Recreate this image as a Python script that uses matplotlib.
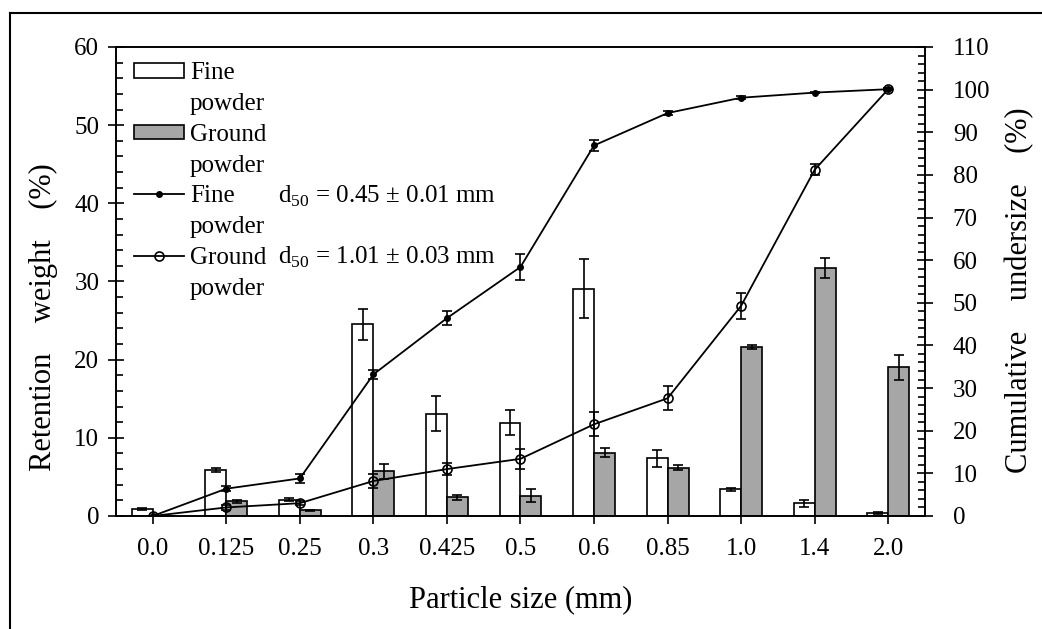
import numpy as np
import matplotlib
matplotlib.use("Agg")
from matplotlib import pyplot as plt
from matplotlib.lines import Line2D
from matplotlib.patches import Rectangle
from matplotlib.ticker import MultipleLocator

plt.rcParams['font.family'] = ['Liberation Serif', 'DejaVu Serif']
plt.rcParams['mathtext.fontset'] = 'custom'
plt.rcParams['mathtext.rm'] = 'Liberation Serif'

# Data
sizes = ['0.0', '0.125', '0.25', '0.3', '0.425', '0.5', '0.6', '0.85', '1.0', '1.4', '2.0']
fine_ret = [0.9, 5.9, 2.1, 24.5, 13.1, 11.9, 29.1, 7.4, 3.4, 1.6, 0.4]
fine_ret_err = [0.1, 0.3, 0.2, 2.0, 2.2, 1.6, 3.8, 1.1, 0.2, 0.4, 0.1]
ground_ret = [0.0, 1.9, 0.7, 5.7, 2.4, 2.6, 8.1, 6.2, 21.6, 31.7, 19.0]
ground_ret_err = [0.0, 0.2, 0.1, 1.0, 0.3, 0.8, 0.6, 0.3, 0.3, 1.3, 1.6]
fine_cum = [0, 6.4, 8.8, 33.2, 46.4, 58.4, 86.9, 94.5, 98.1, 99.3, 100.1]
fine_cum_err = [0, 0.6, 1.0, 1.0, 1.6, 3.0, 1.3, 0.4, 0.3, 0.2, 0.2]
ground_cum = [0, 2.0, 3.0, 8.2, 11.0, 13.4, 21.5, 27.6, 49.3, 81.2, 100.1]
ground_cum_err = [0, 0.5, 0.4, 1.6, 1.5, 2.4, 2.8, 2.8, 3.0, 1.3, 0.3]

x = np.arange(len(sizes))
w = 0.285
gray = '#a6a6a6'

fig = plt.figure(figsize=(10.42, 6.29), dpi=100)
ax = fig.add_axes([0.1113, 0.1797, 0.7764, 0.7456])

ax.bar(x - w/2, fine_ret, w, color='white', edgecolor='black', linewidth=1.2)
ax.bar(x + w/2, ground_ret, w, color=gray, edgecolor='black', linewidth=1.2)
ax.errorbar(x - w/2, fine_ret, yerr=fine_ret_err, fmt='none', ecolor='black',
            elinewidth=1.2, capsize=3.5, capthick=1.2)
ax.errorbar(x + w/2, ground_ret, yerr=ground_ret_err, fmt='none', ecolor='black',
            elinewidth=1.2, capsize=3.5, capthick=1.2)

ax.set_xlim(-0.5, len(sizes) - 0.5)
ax.set_ylim(0, 60)
ax.set_xticks(x)
ax.set_xticklabels(sizes)
ax.yaxis.set_major_locator(MultipleLocator(10))
ax.yaxis.set_minor_locator(MultipleLocator(2))
ax.tick_params(axis='x', direction='out', length=6, width=1.2, labelsize=18, pad=10)
ax.tick_params(axis='y', which='major', direction='inout', length=12, width=1.2,
               labelsize=18, pad=6)
ax.tick_params(axis='y', which='minor', direction='in', length=5, width=1.2)
for s in ax.spines.values():
    s.set_linewidth(1.2)
ax.set_xlabel('Particle size (mm)', fontsize=22)
ax.xaxis.set_label_coords(0.5, -0.147)
ax.set_ylabel('Retention    weight    (%)', fontsize=22)
ax.yaxis.set_label_coords(-0.072, 0.425)

ax2 = ax.twinx()
ax2.errorbar(x, fine_cum, yerr=fine_cum_err, color='black', lw=1.3, marker='o',
             markersize=4, ecolor='black', elinewidth=1.2, capsize=3.5, capthick=1.2)
ax2.errorbar(x, ground_cum, yerr=ground_cum_err, color='black', lw=1.3, marker='o',
             markersize=6.5, markerfacecolor='none', markeredgewidth=1.2,
             ecolor='black', elinewidth=1.2, capsize=3.5, capthick=1.2)
ax2.set_ylim(0, 110)
ax2.yaxis.set_major_locator(MultipleLocator(10))
ax2.yaxis.set_minor_locator(MultipleLocator(2))
ax2.tick_params(axis='y', which='major', direction='inout', length=12, width=1.2,
                labelsize=18, pad=14)
ax2.tick_params(axis='y', which='minor', direction='in', length=5, width=1.2)
for s in ax2.spines.values():
    s.set_linewidth(1.2)
ax2.set_ylabel('Cumulative    undersize    (%)', fontsize=22)
ax2.yaxis.set_label_coords(1.099, 0.482)

# legend with two-line labels, handle beside the first line
blank = Line2D([], [], linestyle='none')
handles = [Rectangle((0, 0), 1, 1, facecolor='white', edgecolor='black', lw=1.2), blank,
           Rectangle((0, 0), 1, 1, facecolor=gray, edgecolor='black', lw=1.2), blank,
           Line2D([], [], color='black', lw=1.3, marker='o', markersize=4), blank,
           Line2D([], [], color='black', lw=1.3, marker='o', markersize=6.5,
                  markerfacecolor='none', markeredgewidth=1.2), blank]
labels = ['Fine', 'powder', 'Ground', 'powder', 'Fine', 'powder', 'Ground', 'powder']
ax2.legend(handles, labels, loc='upper left', bbox_to_anchor=(0.022, 0.967),
           frameon=False, fontsize=18, handlelength=2.0, handleheight=0.5,
           handletextpad=0.25, labelspacing=0.35, borderaxespad=0, borderpad=0)

ax2.text(0.200, 0.682, 'd$_{50}$ = 0.45 ± 0.01 mm', transform=ax.transAxes,
         fontsize=18, ha='left', va='center')
ax2.text(0.200, 0.551, 'd$_{50}$ = 1.01 ± 0.03 mm', transform=ax.transAxes,
         fontsize=18, ha='left', va='center')

# outer frame (left and top edges)
fig.add_artist(Line2D([0.0096, 0.0096], [0, 0.979], color='black', lw=1.5,
                      transform=fig.transFigure))
fig.add_artist(Line2D([0.0096, 1.0], [0.979, 0.979], color='black', lw=1.5,
                      transform=fig.transFigure))

fig.savefig('out.png', dpi=100)
